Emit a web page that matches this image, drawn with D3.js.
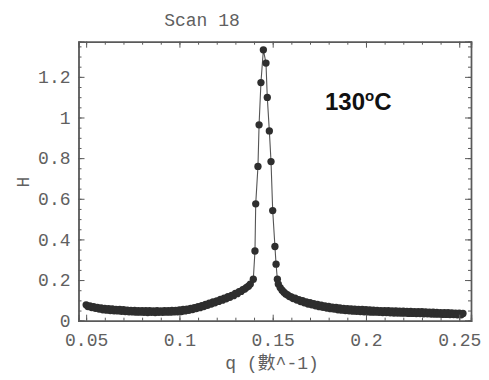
<!DOCTYPE html>
<html>
<head>
<meta charset="utf-8">
<script src="https://cdn.jsdelivr.net/npm/d3@7"></script>
<style>
  html, body { margin: 0; padding: 0; background: #fff; }
  svg { display: block; }
</style>
</head>
<body>
<svg id="chart" width="489" height="380"></svg>
<script>
// ---- data ----
// low-q tail, q = 0.050 ... 0.138
const qLeft = [
  0.050,0.051,0.052,0.053,0.054,0.055,0.056,0.057,0.058,0.059,
  0.060,0.061,0.062,0.063,0.064,0.065,0.066,0.067,0.068,0.069,
  0.070,0.071,0.072,0.073,0.074,0.075,0.076,0.077,0.078,0.079,
  0.080,0.081,0.082,0.083,0.084,0.085,0.086,0.087,0.088,0.089,
  0.090,0.091,0.092,0.093,0.094,0.095,0.096,0.097,0.098,0.099,
  0.100,0.101,0.102,0.103,0.104,0.105,0.106,0.107,0.108,0.109,
  0.110,0.111,0.112,0.113,0.114,0.115,0.116,0.117,0.118,0.119,
  0.120,0.121,0.122,0.123,0.124,0.125,0.126,0.127,0.128,0.129,
  0.130,0.131,0.132,0.133,0.134,0.135,0.136,0.137,0.138
];
const hLeft = [
  0.078,0.070,0.073,0.065,0.069,0.061,0.065,0.057,0.063,0.054,
  0.061,0.052,0.059,0.050,0.058,0.049,0.056,0.048,0.055,0.046,
  0.054,0.045,0.052,0.044,0.051,0.043,0.051,0.042,0.050,0.042,
  0.049,0.041,0.049,0.040,0.049,0.041,0.048,0.040,0.049,0.041,
  0.048,0.041,0.049,0.042,0.050,0.042,0.051,0.043,0.051,0.044,
  0.053,0.045,0.055,0.048,0.057,0.051,0.061,0.055,0.064,0.060,
  0.069,0.064,0.074,0.070,0.080,0.076,0.086,0.082,0.092,0.088,
  0.098,0.095,0.105,0.101,0.111,0.108,0.118,0.115,0.125,0.123,
  0.134,0.133,0.143,0.144,0.153,0.156,0.164,0.170,0.180
];
// peak region
const qPeak = [0.1396,0.1405,0.1409,0.1421,0.1427,0.1437,0.1450,
  0.1464,0.1471,0.1482,0.1491,0.1500,0.1512,0.1518,0.1525];
const hPeak = [0.204,0.343,0.575,0.759,0.964,1.172,1.333,
  1.268,1.099,0.934,0.783,0.542,0.365,0.278,0.204];
// high-q tail, q = 0.153 ... 0.252
const qRight = [
  0.153,0.154,0.155,0.156,0.157,0.158,0.159,0.160,0.161,0.162,
  0.163,0.164,0.165,0.166,0.167,0.168,0.169,0.170,0.171,0.172,
  0.173,0.174,0.175,0.176,0.177,0.178,0.179,0.180,0.181,0.182,
  0.183,0.184,0.185,0.186,0.187,0.188,0.189,0.190,0.191,0.192,
  0.193,0.194,0.195,0.196,0.197,0.198,0.199,0.200,0.201,0.202,
  0.203,0.204,0.205,0.206,0.207,0.208,0.209,0.210,0.211,0.212,
  0.213,0.214,0.215,0.216,0.217,0.218,0.219,0.220,0.221,0.222,
  0.223,0.224,0.225,0.226,0.227,0.228,0.229,0.230,0.231,0.232,
  0.233,0.234,0.235,0.236,0.237,0.238,0.239,0.240,0.241,0.242,
  0.243,0.244,0.245,0.246,0.247,0.248,0.249,0.250,0.251,0.252
];
const hRight = [
  0.180,0.163,0.150,0.140,0.132,0.127,0.119,0.117,0.109,0.111,
  0.102,0.104,0.094,0.099,0.088,0.093,0.082,0.089,0.078,0.084,
  0.073,0.080,0.069,0.076,0.066,0.073,0.062,0.070,0.059,0.067,
  0.057,0.065,0.054,0.063,0.052,0.061,0.050,0.059,0.049,0.058,
  0.047,0.057,0.046,0.056,0.045,0.055,0.044,0.054,0.043,0.053,
  0.042,0.052,0.042,0.051,0.041,0.050,0.040,0.050,0.040,0.049,
  0.039,0.048,0.038,0.048,0.038,0.047,0.037,0.047,0.037,0.046,
  0.036,0.046,0.036,0.045,0.035,0.044,0.035,0.044,0.034,0.043,
  0.034,0.042,0.033,0.042,0.032,0.041,0.032,0.040,0.031,0.040,
  0.031,0.039,0.030,0.038,0.030,0.037,0.029,0.037,0.029,0.036
];
const xTickValues = [0.05, 0.1, 0.15, 0.2, 0.25];
const xTickLabels = ["0.05", "0.1", "0.15", "0.2", "0.25"];
const yTickValues = [0, 0.2, 0.4, 0.6, 0.8, 1, 1.2];
const yTickLabels = ["0", "0.2", "0.4", "0.6", "0.8", "1", "1.2"];
const titleText = "Scan 18";
const xLabelText = "q (數^-1)";
const yLabelText = "H";

// ---- layout ----
const svg = d3.select("#chart");
const pLeft = 78.5, pRight = 471, pTop = 41.7, pBottom = 320.7;
const x = d3.scaleLinear().domain([0.0459, 0.2563]).range([pLeft, pRight]);
const y = d3.scaleLinear().domain([0, 1.373]).range([pBottom, pTop]);
const axisColor = "#5a5a5a";
const textColor = "#606060";
const mono = "'Liberation Mono', 'DejaVu Sans Mono', monospace";

const qAll = qLeft.concat(qPeak, qRight);
const hAll = hLeft.concat(hPeak, hRight);
const data = qAll.map((q, i) => ({ q, h: hAll[i] }));

// connecting line
svg.append("path")
  .datum(data)
  .attr("fill", "none")
  .attr("stroke", "#555")
  .attr("stroke-width", 1.1)
  .attr("d", d3.line().x(d => x(d.q)).y(d => y(d.h)));

// markers
svg.append("g").selectAll("path")
  .data(data)
  .join("path")
  .attr("transform", d => `translate(${x(d.q)},${y(d.h)})`)
  .attr("d", d3.symbol().type(d3.symbolCircle).size(42))
  .attr("fill", "#2e2e2e");

// frame axes with inward ticks
function styleAxis(g) {
  g.selectAll(".domain").attr("stroke", axisColor).attr("stroke-width", 1.4);
  g.selectAll(".tick line").attr("stroke", axisColor).attr("stroke-width", 1);
  g.selectAll(".tick text").attr("fill", textColor)
    .style("font-family", mono).style("font-size", "18px");
}
const xMinor = d3.range(0.05, 0.2501, 0.01);
const yMinor = d3.range(0, 1.3701, 0.05);

// minor ticks (no labels)
svg.append("g").attr("transform", `translate(0,${pBottom})`)
  .call(d3.axisBottom(x).tickValues(xMinor).tickSize(-3).tickFormat(""))
  .call(styleAxis);
svg.append("g").attr("transform", `translate(0,${pTop})`)
  .call(d3.axisTop(x).tickValues(xMinor).tickSize(-3).tickFormat(""))
  .call(styleAxis);
svg.append("g").attr("transform", `translate(${pLeft},0)`)
  .call(d3.axisLeft(y).tickValues(yMinor).tickSize(-3).tickFormat(""))
  .call(styleAxis);
svg.append("g").attr("transform", `translate(${pRight},0)`)
  .call(d3.axisRight(y).tickValues(yMinor).tickSize(-3).tickFormat(""))
  .call(styleAxis);

// major ticks
svg.append("g").attr("transform", `translate(0,${pBottom})`)
  .call(d3.axisBottom(x).tickValues(xTickValues).tickSize(-6).tickPadding(13)
    .tickFormat((d, i) => xTickLabels[i]))
  .call(styleAxis);
svg.append("g").attr("transform", `translate(0,${pTop})`)
  .call(d3.axisTop(x).tickValues(xTickValues).tickSize(-6).tickFormat(""))
  .call(styleAxis);
svg.append("g").attr("transform", `translate(${pLeft},0)`)
  .call(d3.axisLeft(y).tickValues(yTickValues).tickSize(-6).tickPadding(8)
    .tickFormat((d, i) => yTickLabels[i]))
  .call(styleAxis);
svg.append("g").attr("transform", `translate(${pRight},0)`)
  .call(d3.axisRight(y).tickValues(yTickValues).tickSize(-6).tickFormat(""))
  .call(styleAxis);

// title
svg.append("text")
  .attr("x", 202).attr("y", 26)
  .attr("text-anchor", "middle")
  .attr("fill", textColor)
  .style("font-family", mono).style("font-size", "18px")
  .text(titleText);

// x label
svg.append("text")
  .attr("x", 272).attr("y", 369)
  .attr("text-anchor", "middle")
  .attr("fill", textColor)
  .style("font-family", "'Liberation Mono', 'Noto Sans CJK SC', monospace")
  .style("font-size", "18px")
  .text(xLabelText);

// y label
svg.append("text")
  .attr("transform", "translate(29,182) rotate(-90)")
  .attr("text-anchor", "middle")
  .attr("fill", textColor)
  .style("font-family", mono).style("font-size", "18px")
  .text(yLabelText);

// annotation
const ann = svg.append("text")
  .attr("x", 325).attr("y", 110)
  .attr("fill", "#111")
  .style("font-family", "'Liberation Sans', Arial, sans-serif")
  .style("font-weight", "bold")
  .style("font-size", "24px");
ann.append("tspan").text("130");
ann.append("tspan").attr("dy", -9).style("font-size", "15px").text("o");
ann.append("tspan").attr("dy", 9).text("C");
</script>
</body>
</html>
